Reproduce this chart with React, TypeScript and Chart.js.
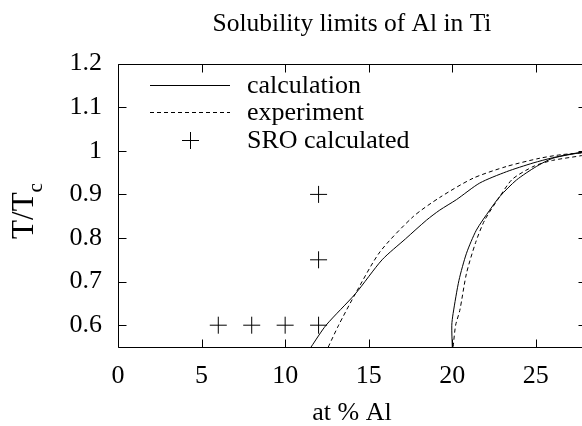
import React, { useEffect, useRef } from "react";
import { Chart, registerables } from "chart.js";

Chart.register(...registerables);

const titleText = "Solubility limits of Al in Ti";
const xTitle = "at % Al";
const yTitleMain = "T/T";
const yTitleSub = "c";

const xTicks = [0, 5, 10, 15, 20, 25];
const yTicks = [0.6, 0.7, 0.8, 0.9, 1.0, 1.1, 1.2];

// calculation: left branch upward, over the top (beyond view), right branch downward
const calcX = [11.55, 12.45, 14.2, 15.8, 17.2, 18.46, 19.25, 20.25, 21.64, 23.24, 24.83, 26.0, 27.0, 28.0, 28.8,
  27.74, 26.02, 25.03, 23.84, 22.84, 22.24, 21.44, 20.85, 20.4, 20.05, 19.97, 20.0];
const calcY = [0.55, 0.6, 0.672, 0.75, 0.798, 0.841, 0.864, 0.888, 0.926, 0.952, 0.972, 0.984, 0.992, 0.998, 1.0,
  0.996, 0.983, 0.964, 0.933, 0.895, 0.864, 0.818, 0.765, 0.703, 0.627, 0.6, 0.55];

const expX = [12.58, 13.2, 14.2, 15.67, 17.66, 19.25, 21.24, 23.24, 25.24, 26.5, 27.74, 28.9,
  27.74, 26.0, 24.9, 23.6, 22.84, 21.94, 21.4, 20.85, 20.45, 20.2, 20.05];
const expY = [0.55, 0.6, 0.672, 0.768, 0.849, 0.893, 0.937, 0.964, 0.983, 0.991, 0.995, 0.998,
  0.989, 0.978, 0.965, 0.935, 0.895, 0.841, 0.79, 0.719, 0.634, 0.6, 0.55];

const sroX = [6, 8, 10, 12, 12, 12];
const sroY = [0.6, 0.6, 0.6, 0.6, 0.75, 0.9];

const FONT = "'Liberation Serif', 'Times New Roman', serif";
const FS = 26;

const toPts = (xs: number[], ys: number[]) => xs.map((x, i) => ({ x, y: ys[i] }));

const framePlugin = {
  id: "framePlugin",
  afterDraw(chart: any) {
    const { ctx, chartArea: a, scales } = chart;
    const xs = scales.x;
    const ys = scales.y;
    const L = Math.round(a.left) + 0.5;
    const R = Math.round(a.right) + 0.5;
    const T = Math.round(a.top) + 0.5;
    const B = Math.round(a.bottom) + 0.5;
    ctx.save();
    ctx.strokeStyle = "#000";
    ctx.lineWidth = 1;
    ctx.setLineDash([]);
    ctx.beginPath();
    ctx.rect(L, T, R - L, B - T);
    const tl = 8;
    xTicks.forEach((v) => {
      const px = Math.round(xs.getPixelForValue(v)) + 0.5;
      ctx.moveTo(px, B);
      ctx.lineTo(px, B - tl);
      ctx.moveTo(px, T);
      ctx.lineTo(px, T + tl);
    });
    yTicks.forEach((v) => {
      const py = Math.round(ys.getPixelForValue(v)) + 0.5;
      ctx.moveTo(L, py);
      ctx.lineTo(L + tl, py);
      ctx.moveTo(R, py);
      ctx.lineTo(R - tl, py);
    });
    ctx.stroke();

    // legend
    const ds = chart.data.datasets;
    ctx.font = `${FS}px ${FONT}`;
    ctx.fillStyle = "#000";
    ctx.textBaseline = "middle";
    ctx.textAlign = "left";
    ds.forEach((d: any, i: number) => {
      const y = Math.round(a.top + 21 + i * 27.5) + 0.5;
      const x0 = a.left + 32;
      const x1 = a.left + 112;
      ctx.beginPath();
      if (d.showLine === false) {
        const cx = Math.round((x0 + x1) / 2) + 0.5;
        const r = d.pointRadius;
        ctx.setLineDash([]);
        ctx.moveTo(cx - r, y);
        ctx.lineTo(cx + r, y);
        ctx.moveTo(cx, y - r);
        ctx.lineTo(cx, y + r);
      } else {
        ctx.setLineDash(d.borderDash || []);
        ctx.moveTo(x0, y);
        ctx.lineTo(x1, y);
      }
      ctx.stroke();
      ctx.setLineDash([]);
      ctx.fillText(d.label, a.left + 129, y + 1);
    });

    // y axis title with subscript
    const mainSize = 31;
    const subSize = 21;
    ctx.translate(33, 211);
    ctx.rotate(-Math.PI / 2);
    ctx.font = `${mainSize}px ${FONT}`;
    const w1 = ctx.measureText(yTitleMain).width;
    ctx.font = `${subSize}px ${FONT}`;
    const w2 = ctx.measureText(yTitleSub).width;
    const start = -(w1 + w2) / 2;
    ctx.textBaseline = "alphabetic";
    ctx.font = `${mainSize}px ${FONT}`;
    ctx.fillText(yTitleMain, start, 0);
    ctx.font = `${subSize}px ${FONT}`;
    ctx.fillText(yTitleSub, start + w1, 9);
    ctx.restore();
  },
};

export default function App() {
  const ref = useRef<HTMLCanvasElement | null>(null);
  useEffect(() => {
    if (!ref.current) return;
    const chart = new Chart(ref.current, {
      type: "line",
      data: {
        datasets: [
          {
            label: "calculation",
            data: toPts(calcX, calcY),
            borderColor: "#000",
            borderWidth: 1,
            pointRadius: 0,
            fill: false,
            tension: 0.25,
          },
          {
            label: "experiment",
            data: toPts(expX, expY),
            borderColor: "#000",
            borderWidth: 1,
            borderDash: [4, 3],
            pointRadius: 0,
            fill: false,
            tension: 0.25,
          },
          {
            label: "SRO calculated",
            data: toPts(sroX, sroY),
            borderColor: "#000",
            borderWidth: 1,
            showLine: false,
            pointStyle: "cross",
            pointRadius: 8.5,
            pointBorderColor: "#000",
            pointBorderWidth: 1,
          },
        ] as any,
      },
      options: {
        animation: false,
        responsive: false,
        devicePixelRatio: 1,
        layout: { padding: { left: 0, right: 14, top: 0, bottom: 0 } },
        plugins: {
          legend: { display: false },
          tooltip: { enabled: false },
          title: {
            display: true,
            text: titleText,
            fullSize: false,
            color: "#000",
            font: { family: FONT, size: 25.5, weight: "normal", lineHeight: 1.2 },
            padding: { top: 9, bottom: 24 },
          },
        },
        scales: {
          x: {
            type: "linear",
            min: 0,
            max: 28,
            afterBuildTicks: (s: any) => {
              s.ticks = xTicks.map((v) => ({ value: v }));
            },
            afterFit: (s: any) => {
              s.height = 79;
            },
            grid: { display: false, drawTicks: false },
            border: { display: false },
            ticks: {
              color: "#000",
              font: { family: FONT, size: FS },
              padding: 14,
              maxRotation: 0,
              callback: (v: any) => String(v),
            },
            title: {
              display: true,
              text: xTitle,
              color: "#000",
              font: { family: FONT, size: FS, lineHeight: 1.0 },
              padding: 0,
            },
          },
          y: {
            type: "linear",
            min: 0.55,
            max: 1.2,
            afterBuildTicks: (s: any) => {
              s.ticks = yTicks.map((v) => ({ value: v }));
            },
            afterFit: (s: any) => {
              s.width = 118;
            },
            grid: { display: false, drawTicks: false },
            border: { display: false },
            ticks: {
              color: "#000",
              font: { family: FONT, size: FS },
              padding: 16,
              callback: (v: any) => String(+Number(v).toFixed(1)),
            },
          },
        },
      },
      plugins: [framePlugin],
    } as any);
    return () => chart.destroy();
  }, []);
  return (
    <div style={{ position: "absolute", left: 0, top: 0, width: 582, height: 426, overflow: "hidden", background: "#fff" }}>
      <canvas ref={ref} width={600} height={426} style={{ display: "block" }} />
    </div>
  );
}
